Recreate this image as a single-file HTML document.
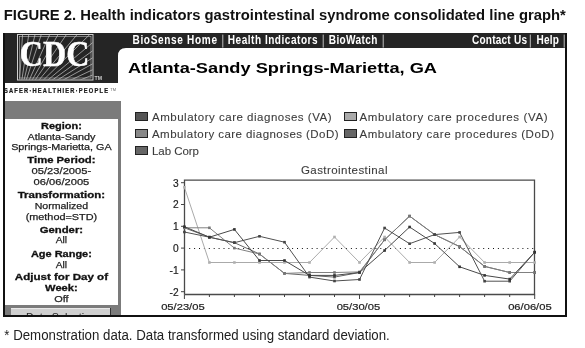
<!DOCTYPE html>
<html><head><meta charset="utf-8"><style>
html,body{margin:0;padding:0;background:#fff;width:585px;height:348px;overflow:hidden}
svg{display:block;will-change:transform}
text{font-family:"Liberation Sans",sans-serif}
.ax{font-size:9.5px;fill:#222}
.ay{font-size:10.2px;fill:#222;stroke:#222;stroke-width:0.2px}
.axl{font-size:9.7px;fill:#222;stroke:#222;stroke-width:0.2px}
.sb{font-size:9.5px;fill:#222;stroke:#222;stroke-width:0.25px}
.sbb{font-size:9.5px;font-weight:bold;fill:#111;stroke:#111;stroke-width:0.3px}
.lg{font-size:11.5px;fill:#3c3c3c;stroke:#3c3c3c;stroke-width:0.1px}
.nav{font-size:12px;font-weight:bold;fill:#fff}
</style></head><body>
<svg width="585" height="348" viewBox="0 0 585 348">
<text x="3.8" y="20.2" font-size="15.2" font-weight="bold" fill="#111" textLength="562" lengthAdjust="spacingAndGlyphs">FIGURE 2. Health indicators gastrointestinal syndrome consolidated line graph*</text>

<!-- dark header -->
<path d="M3,33 H565 Q567,33 567,35 V48 H126 Q118,48 118,56 V83 H3 Z" fill="#252525"/>
<!-- nav text -->
<text transform="translate(132.5,43.6) scale(0.84,1)" x="0" y="0" class="nav" textLength="100.60" lengthAdjust="spacing">BioSense Home</text>
<text transform="translate(227.8,43.6) scale(0.84,1)" x="0" y="0" class="nav" textLength="106.90" lengthAdjust="spacing">Health Indicators</text>
<text transform="translate(328.8,43.6) scale(0.84,1)" x="0" y="0" class="nav" textLength="57.74" lengthAdjust="spacing">BioWatch</text>
<text transform="translate(472,43.6) scale(0.84,1)" x="0" y="0" class="nav" textLength="65.48" lengthAdjust="spacing">Contact Us</text>
<text transform="translate(536.5,43.6) scale(0.84,1)" x="0" y="0" class="nav" textLength="26.79" lengthAdjust="spacing">Help</text>
<g fill="#bdbdbd">
<rect x="222.3" y="34.6" width="1" height="13"/>
<rect x="322.7" y="34.6" width="1" height="13"/>
<rect x="382.7" y="34.6" width="1" height="13"/>
<rect x="529.8" y="34.6" width="1" height="13"/>
<rect x="563.7" y="34.6" width="1" height="13"/>
</g>

<!-- CDC logo -->
<rect x="17.5" y="34.5" width="75.5" height="45.5" fill="none" stroke="#d0d0d0" stroke-width="1"/>
<rect x="19.5" y="36.5" width="71.5" height="41.5" fill="none" stroke="#bbb" stroke-width="0.6"/>
<defs><clipPath id="lc"><rect x="18" y="35" width="74.5" height="44.5"/></clipPath></defs><g stroke="#c8c8c8" stroke-width="0.7" clip-path="url(#lc)"><line x1="18.0" y1="105.0" x2="27.03" y2="-34.71" /><line x1="18.0" y1="105.0" x2="39.18" y2="-33.39" /><line x1="18.0" y1="105.0" x2="50.92" y2="-31.07" /><line x1="18.0" y1="105.0" x2="61.96" y2="-27.92" /><line x1="18.0" y1="105.0" x2="75.39" y2="-22.70" /><line x1="18.0" y1="105.0" x2="87.15" y2="-16.73" /><line x1="18.0" y1="105.0" x2="97.30" y2="-10.38" /><line x1="18.0" y1="105.0" x2="107.99" y2="-2.25" /><line x1="18.0" y1="105.0" x2="117.86" y2="6.87" /><line x1="18.0" y1="105.0" x2="125.40" y2="15.20" /><line x1="18.0" y1="105.0" x2="131.26" y2="22.71" /><line x1="18.0" y1="105.0" x2="136.34" y2="30.19" /><line x1="18.0" y1="105.0" x2="140.57" y2="37.34" /><line x1="18.0" y1="105.0" x2="144.57" y2="45.17" /><line x1="18.0" y1="105.0" x2="147.90" y2="52.78" /></g>
<text x="54.6" y="65.8" text-anchor="middle" font-family="Liberation Serif" font-size="36" font-weight="bold" fill="#fff" stroke="#fff" stroke-width="0.5" textLength="69.5" lengthAdjust="spacingAndGlyphs" style="font-family:'Liberation Serif',serif">CDC</text>
<text x="94.5" y="80" font-size="6" font-weight="bold" fill="#ccc" textLength="7.5" lengthAdjust="spacingAndGlyphs">TM</text>
<text transform="translate(4,93.4) scale(0.9,1)" x="0" y="0" font-size="6.4" font-weight="bold" fill="#1a1a1a" stroke="#1a1a1a" stroke-width="0.25" textLength="115.56" lengthAdjust="spacing">SAFER·HEALTHIER·PEOPLE</text>
<text x="110.3" y="91.3" font-size="4" fill="#666">TM</text>

<!-- sidebar -->
<rect x="5" y="101" width="116" height="214" fill="#7b7b7b"/>
<rect x="5" y="119" width="113" height="186" fill="#fff"/>
<rect x="11" y="308" width="100" height="7" fill="#d0d0d0"/><rect x="110" y="308" width="1" height="7" fill="#333"/>
<text x="61.4" y="128.9" text-anchor="middle" class="sbb" textLength="40.8" lengthAdjust="spacingAndGlyphs">Region:</text><text x="61.4" y="139.5" text-anchor="middle" class="sb" textLength="67.8" lengthAdjust="spacingAndGlyphs">Atlanta-Sandy</text><text x="61.4" y="150.3" text-anchor="middle" class="sb" textLength="100.4" lengthAdjust="spacingAndGlyphs">Springs-Marietta, GA</text><text x="61.4" y="163.4" text-anchor="middle" class="sbb" textLength="68.2" lengthAdjust="spacingAndGlyphs">Time Period:</text><text x="61.4" y="174.2" text-anchor="middle" class="sb" textLength="59.6" lengthAdjust="spacingAndGlyphs">05/23/2005-</text><text x="61.4" y="185.1" text-anchor="middle" class="sb" textLength="55.8" lengthAdjust="spacingAndGlyphs">06/06/2005</text><text x="61.4" y="197.6" text-anchor="middle" class="sbb" textLength="87.4" lengthAdjust="spacingAndGlyphs">Transformation:</text><text x="61.4" y="208.8" text-anchor="middle" class="sb" textLength="53.4" lengthAdjust="spacingAndGlyphs">Normalized</text><text x="61.4" y="219.6" text-anchor="middle" class="sb" textLength="71.4" lengthAdjust="spacingAndGlyphs">(method=STD)</text><text x="61.4" y="232.6" text-anchor="middle" class="sbb" textLength="43.4" lengthAdjust="spacingAndGlyphs">Gender:</text><text x="61.4" y="243.3" text-anchor="middle" class="sb" textLength="11.4" lengthAdjust="spacingAndGlyphs">All</text><text x="61.4" y="256.9" text-anchor="middle" class="sbb" textLength="61.0" lengthAdjust="spacingAndGlyphs">Age Range:</text><text x="61.4" y="267.8" text-anchor="middle" class="sb" textLength="11.4" lengthAdjust="spacingAndGlyphs">All</text><text x="61.4" y="280.4" text-anchor="middle" class="sbb" textLength="93.2" lengthAdjust="spacingAndGlyphs">Adjust for Day of</text><text x="61.4" y="291.2" text-anchor="middle" class="sbb" textLength="32.6" lengthAdjust="spacingAndGlyphs">Week:</text><text x="61.4" y="302.2" text-anchor="middle" class="sb" textLength="14.4" lengthAdjust="spacingAndGlyphs">Off</text>
<rect x="11" y="308" width="99" height="1" fill="#e8e8e8"/><defs><clipPath id="bc"><rect x="11" y="309" width="100" height="6"/></clipPath></defs><text x="61" y="320.8" text-anchor="middle" font-size="10" fill="#222" textLength="70" lengthAdjust="spacingAndGlyphs" clip-path="url(#bc)">Data Selection</text>

<!-- frame borders -->
<rect x="3" y="33" width="2" height="284" fill="#111"/>
<rect x="565" y="33" width="2" height="284" fill="#111"/>
<rect x="3" y="315" width="564" height="2" fill="#111"/>

<!-- page title -->
<text x="128" y="73.3" font-size="15" font-weight="bold" fill="#000" textLength="309" lengthAdjust="spacingAndGlyphs">Atlanta-Sandy Springs-Marietta, GA</text>

<!-- legend -->
<g stroke="#222" stroke-width="1">
<rect x="135.5" y="112.5" width="12" height="8" fill="#555"/>
<rect x="135.5" y="129.5" width="12" height="8" fill="#888"/>
<rect x="135.5" y="146.5" width="12" height="8" fill="#666"/>
<rect x="344.5" y="112.5" width="12" height="8" fill="#aaa"/>
<rect x="344.5" y="129.5" width="12" height="8" fill="#666"/>
</g>
<text x="152" y="120.5" class="lg" textLength="179.5" lengthAdjust="spacing">Ambulatory care diagnoses (VA)</text>
<text x="152" y="137.5" class="lg" textLength="186.5" lengthAdjust="spacing">Ambulatory care diagnoses (DoD)</text>
<text x="152" y="154.5" class="lg" textLength="47" lengthAdjust="spacing">Lab Corp</text>
<text x="359.5" y="120.5" class="lg" textLength="188" lengthAdjust="spacing">Ambulatory care procedures (VA)</text>
<text x="359.5" y="137.5" class="lg" textLength="194.5" lengthAdjust="spacing">Ambulatory care procedures (DoD)</text>
<text x="344.2" y="173.8" class="lg" text-anchor="middle" textLength="86.5" lengthAdjust="spacing">Gastrointestinal</text>
<path d="M184.5,294.5 V180.2 H534.5 V294.5 H184.5" fill="none" stroke="#4a4a4a" stroke-width="1.3"/><line x1="189.2" y1="248.5" x2="534" y2="248.5" stroke="#111" stroke-width="1" stroke-dasharray="1,3.9"/><line x1="181" y1="182.7" x2="184.5" y2="182.7" stroke="#444" stroke-width="1"/><text x="178.6" y="186.5" text-anchor="end" class="ay">3</text><line x1="181" y1="204.5" x2="184.5" y2="204.5" stroke="#444" stroke-width="1"/><text x="178.6" y="208.3" text-anchor="end" class="ay">2</text><line x1="181" y1="226.3" x2="184.5" y2="226.3" stroke="#444" stroke-width="1"/><text x="178.6" y="230.1" text-anchor="end" class="ay">1</text><line x1="181" y1="248.1" x2="184.5" y2="248.1" stroke="#444" stroke-width="1"/><text x="178.6" y="251.9" text-anchor="end" class="ay">0</text><line x1="181" y1="269.9" x2="184.5" y2="269.9" stroke="#444" stroke-width="1"/><text x="178.6" y="273.7" text-anchor="end" class="ay">-1</text><line x1="181" y1="291.7" x2="184.5" y2="291.7" stroke="#444" stroke-width="1"/><text x="178.6" y="295.5" text-anchor="end" class="ay">-2</text><line x1="184.4" y1="294.5" x2="184.4" y2="299.0" stroke="#444" stroke-width="1"/><line x1="209.4" y1="294.5" x2="209.4" y2="297.0" stroke="#444" stroke-width="1"/><line x1="234.4" y1="294.5" x2="234.4" y2="297.0" stroke="#444" stroke-width="1"/><line x1="259.5" y1="294.5" x2="259.5" y2="297.0" stroke="#444" stroke-width="1"/><line x1="284.5" y1="294.5" x2="284.5" y2="297.0" stroke="#444" stroke-width="1"/><line x1="309.5" y1="294.5" x2="309.5" y2="297.0" stroke="#444" stroke-width="1"/><line x1="334.5" y1="294.5" x2="334.5" y2="297.0" stroke="#444" stroke-width="1"/><line x1="359.5" y1="294.5" x2="359.5" y2="299.0" stroke="#444" stroke-width="1"/><line x1="384.6" y1="294.5" x2="384.6" y2="297.0" stroke="#444" stroke-width="1"/><line x1="409.6" y1="294.5" x2="409.6" y2="297.0" stroke="#444" stroke-width="1"/><line x1="434.6" y1="294.5" x2="434.6" y2="297.0" stroke="#444" stroke-width="1"/><line x1="459.6" y1="294.5" x2="459.6" y2="297.0" stroke="#444" stroke-width="1"/><line x1="484.6" y1="294.5" x2="484.6" y2="297.0" stroke="#444" stroke-width="1"/><line x1="509.7" y1="294.5" x2="509.7" y2="297.0" stroke="#444" stroke-width="1"/><line x1="534.7" y1="294.5" x2="534.7" y2="299.0" stroke="#444" stroke-width="1"/><text x="182.9" y="310" text-anchor="middle" class="axl" textLength="43.5" lengthAdjust="spacingAndGlyphs">05/23/05</text><text x="358.4" y="310" text-anchor="middle" class="axl" textLength="43.5" lengthAdjust="spacingAndGlyphs">05/30/05</text><text x="529.9" y="310" text-anchor="middle" class="axl" textLength="43.5" lengthAdjust="spacingAndGlyphs">06/06/05</text><polyline points="184.4,187.3 209.4,262.5 234.4,262.5 259.5,262.5 284.5,262.5 309.5,262.5 334.5,237.0 359.5,262.5 384.6,237.0 409.6,262.5 434.6,262.5 459.6,237.0 484.6,262.5 509.7,262.5 534.7,262.5" fill="none" stroke="#aaaaaa" stroke-width="1"/><rect x="183.1" y="186.0" width="2.6" height="2.6" fill="#b0b0b0"/><rect x="208.1" y="261.2" width="2.6" height="2.6" fill="#b0b0b0"/><rect x="233.1" y="261.2" width="2.6" height="2.6" fill="#b0b0b0"/><rect x="258.2" y="261.2" width="2.6" height="2.6" fill="#b0b0b0"/><rect x="283.2" y="261.2" width="2.6" height="2.6" fill="#b0b0b0"/><rect x="308.2" y="261.2" width="2.6" height="2.6" fill="#b0b0b0"/><rect x="333.2" y="235.7" width="2.6" height="2.6" fill="#b0b0b0"/><rect x="358.2" y="261.2" width="2.6" height="2.6" fill="#b0b0b0"/><rect x="383.3" y="235.7" width="2.6" height="2.6" fill="#b0b0b0"/><rect x="408.3" y="261.2" width="2.6" height="2.6" fill="#b0b0b0"/><rect x="433.3" y="261.2" width="2.6" height="2.6" fill="#b0b0b0"/><rect x="458.3" y="235.7" width="2.6" height="2.6" fill="#b0b0b0"/><rect x="483.3" y="261.2" width="2.6" height="2.6" fill="#b0b0b0"/><rect x="508.4" y="261.2" width="2.6" height="2.6" fill="#b0b0b0"/><rect x="533.4" y="261.2" width="2.6" height="2.6" fill="#b0b0b0"/><polyline points="184.4,227.8 209.4,237.2 234.4,242.7 259.5,254.0 284.5,273.4 309.5,275.4 334.5,277.1 359.5,272.5 384.6,239.8 409.6,216.1 434.6,234.6 459.6,246.6 484.6,266.4 509.7,272.5 534.7,272.5" fill="none" stroke="#666666" stroke-width="1"/><rect x="183.1" y="226.5" width="2.6" height="2.6" fill="#555"/><rect x="208.1" y="235.9" width="2.6" height="2.6" fill="#555"/><rect x="233.1" y="241.3" width="2.6" height="2.6" fill="#555"/><rect x="258.2" y="252.7" width="2.6" height="2.6" fill="#555"/><rect x="283.2" y="272.1" width="2.6" height="2.6" fill="#555"/><rect x="308.2" y="274.1" width="2.6" height="2.6" fill="#555"/><rect x="333.2" y="275.8" width="2.6" height="2.6" fill="#555"/><rect x="358.2" y="271.2" width="2.6" height="2.6" fill="#555"/><rect x="383.3" y="238.5" width="2.6" height="2.6" fill="#555"/><rect x="408.3" y="214.8" width="2.6" height="2.6" fill="#555"/><rect x="433.3" y="233.3" width="2.6" height="2.6" fill="#555"/><rect x="458.3" y="245.3" width="2.6" height="2.6" fill="#555"/><rect x="483.3" y="265.1" width="2.6" height="2.6" fill="#555"/><rect x="508.4" y="271.2" width="2.6" height="2.6" fill="#555"/><rect x="533.4" y="271.2" width="2.6" height="2.6" fill="#555"/><polyline points="184.4,227.8 209.4,227.8 234.4,248.1 259.5,254.0 284.5,273.4 309.5,272.5 334.5,272.5 359.5,271.9 384.6,239.8 409.6,216.1 434.6,234.6 459.6,246.6 484.6,266.4 509.7,272.5 534.7,272.5" fill="none" stroke="#808080" stroke-width="1"/><rect x="183.1" y="226.5" width="2.6" height="2.6" fill="#777"/><rect x="208.1" y="226.5" width="2.6" height="2.6" fill="#777"/><rect x="233.1" y="246.8" width="2.6" height="2.6" fill="#777"/><rect x="258.2" y="252.7" width="2.6" height="2.6" fill="#777"/><rect x="283.2" y="272.1" width="2.6" height="2.6" fill="#777"/><rect x="308.2" y="271.2" width="2.6" height="2.6" fill="#777"/><rect x="333.2" y="271.2" width="2.6" height="2.6" fill="#777"/><rect x="358.2" y="270.6" width="2.6" height="2.6" fill="#777"/><rect x="383.3" y="238.5" width="2.6" height="2.6" fill="#777"/><rect x="408.3" y="214.8" width="2.6" height="2.6" fill="#777"/><rect x="433.3" y="233.3" width="2.6" height="2.6" fill="#777"/><rect x="458.3" y="245.3" width="2.6" height="2.6" fill="#777"/><rect x="483.3" y="265.1" width="2.6" height="2.6" fill="#777"/><rect x="508.4" y="271.2" width="2.6" height="2.6" fill="#777"/><rect x="533.4" y="271.2" width="2.6" height="2.6" fill="#777"/><polyline points="184.4,232.0 209.4,237.2 234.4,242.7 259.5,236.3 284.5,242.2 309.5,277.1 334.5,281.0 359.5,279.5 384.6,228.0 409.6,243.7 434.6,234.6 459.6,232.4 484.6,281.2 509.7,281.2 534.7,252.2" fill="none" stroke="#505050" stroke-width="1"/><rect x="183.1" y="230.7" width="2.6" height="2.6" fill="#444"/><rect x="208.1" y="235.9" width="2.6" height="2.6" fill="#444"/><rect x="233.1" y="241.3" width="2.6" height="2.6" fill="#444"/><rect x="258.2" y="235.0" width="2.6" height="2.6" fill="#444"/><rect x="283.2" y="240.9" width="2.6" height="2.6" fill="#444"/><rect x="308.2" y="275.8" width="2.6" height="2.6" fill="#444"/><rect x="333.2" y="279.7" width="2.6" height="2.6" fill="#444"/><rect x="358.2" y="278.2" width="2.6" height="2.6" fill="#444"/><rect x="383.3" y="226.7" width="2.6" height="2.6" fill="#444"/><rect x="408.3" y="242.4" width="2.6" height="2.6" fill="#444"/><rect x="433.3" y="233.3" width="2.6" height="2.6" fill="#444"/><rect x="458.3" y="231.1" width="2.6" height="2.6" fill="#444"/><rect x="483.3" y="279.9" width="2.6" height="2.6" fill="#444"/><rect x="508.4" y="279.9" width="2.6" height="2.6" fill="#444"/><rect x="533.4" y="250.9" width="2.6" height="2.6" fill="#444"/><polyline points="184.4,226.7 209.4,237.2 234.4,229.4 259.5,260.5 284.5,260.5 309.5,275.4 334.5,275.4 359.5,272.5 384.6,250.5 409.6,227.0 434.6,243.5 459.6,266.8 484.6,275.4 509.7,279.1 534.7,252.2" fill="none" stroke="#484848" stroke-width="1"/><rect x="183.1" y="225.4" width="2.6" height="2.6" fill="#333"/><rect x="208.1" y="235.9" width="2.6" height="2.6" fill="#333"/><rect x="233.1" y="228.1" width="2.6" height="2.6" fill="#333"/><rect x="258.2" y="259.2" width="2.6" height="2.6" fill="#333"/><rect x="283.2" y="259.2" width="2.6" height="2.6" fill="#333"/><rect x="308.2" y="274.1" width="2.6" height="2.6" fill="#333"/><rect x="333.2" y="274.1" width="2.6" height="2.6" fill="#333"/><rect x="358.2" y="271.2" width="2.6" height="2.6" fill="#333"/><rect x="383.3" y="249.2" width="2.6" height="2.6" fill="#333"/><rect x="408.3" y="225.7" width="2.6" height="2.6" fill="#333"/><rect x="433.3" y="242.2" width="2.6" height="2.6" fill="#333"/><rect x="458.3" y="265.5" width="2.6" height="2.6" fill="#333"/><rect x="483.3" y="274.1" width="2.6" height="2.6" fill="#333"/><rect x="508.4" y="277.8" width="2.6" height="2.6" fill="#333"/><rect x="533.4" y="250.9" width="2.6" height="2.6" fill="#333"/>

<!-- footnote -->
<text x="4.3" y="340" font-size="14" fill="#222" textLength="385.5" lengthAdjust="spacingAndGlyphs">* Demonstration data. Data transformed using standard deviation.</text>
</svg>
</body></html>
